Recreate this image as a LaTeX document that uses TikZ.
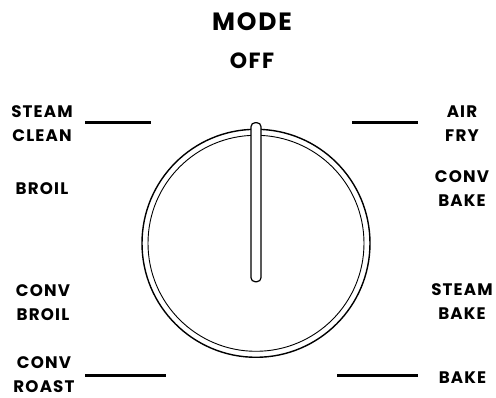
\documentclass[tikz,border=0pt]{standalone}
\usepackage{fontspec}
\setmainfont{Poppins}[LetterSpace=7]
\tikzset{
  lbl/.style={font=\bfseries\fontsize{16.7}{24}\selectfont, inner sep=0pt, align=center, anchor=center},
  tick/.style={line width=2.5pt},
}
\begin{document}
\begin{tikzpicture}[x=1pt,y=-1pt]
\useasboundingbox[fill=white] (0,0) rectangle (496,398);
% titles
\node[lbl, font=\bfseries\fontsize{25}{30}\selectfont] (mode) at (252,22) {MODE};
\node[lbl, font=\bfseries\fontsize{22}{26}\selectfont] (off) at (252,60.5) {OFF};
% left labels
\node[lbl] (sclean) at (42,124) {STEAM\\CLEAN};
\node[lbl] (broil) at (42,189) {BROIL};
\node[lbl] (cbroil) at (43,303) {CONV\\BROIL};
\node[lbl] (croast) at (44,374.5) {CONV\\ROAST};
% right labels
\node[lbl] (airfry) at (462,124) {AIR\\FRY};
\node[lbl] (cbake) at (462,189) {CONV\\BAKE};
\node[lbl] (sbake) at (462,301.5) {STEAM\\BAKE};
\node[lbl] (bake) at (462.5,377.5) {BAKE};
% tick lines
\coordinate (tl1) at (85,122.5);  \coordinate (tl2) at (150.5,122.5);
\coordinate (tr1) at (352,122.5); \coordinate (tr2) at (417.5,122.5);
\coordinate (bl1) at (85,375.5);  \coordinate (bl2) at (165.5,375.5);
\coordinate (br1) at (337,375.5); \coordinate (br2) at (417.5,375.5);
\draw[tick] (tl1) -- (tl2);
\draw[tick] (tr1) -- (tr2);
\draw[tick] (bl1) -- (bl2);
\draw[tick] (br1) -- (br2);
% knob
\coordinate (c) at (256,243.3);
\draw[line width=1.4pt] (c) circle[radius=114];
\draw[line width=0.9pt] (c) circle[radius=108];
\draw[line width=1.2pt, fill=white, rounded corners=4pt] (251,122.7) rectangle (261,281.7);
\end{tikzpicture}
\end{document}
